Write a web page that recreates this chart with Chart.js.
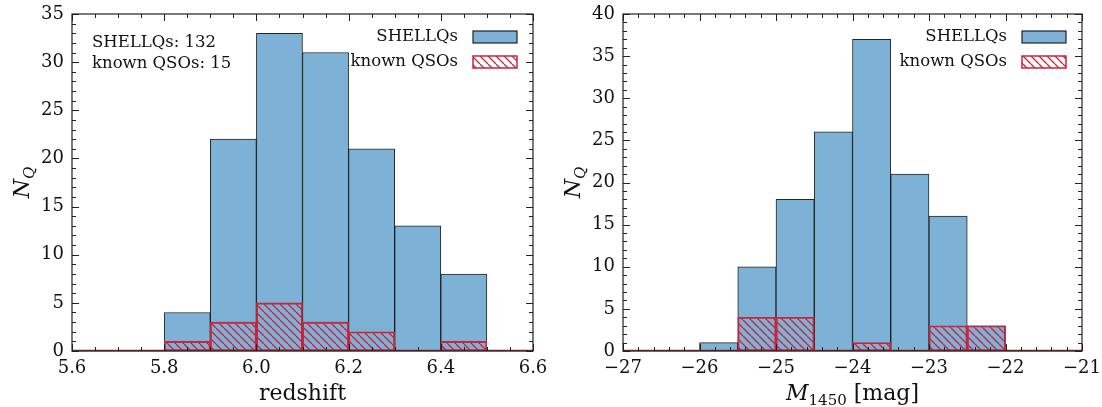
<!DOCTYPE html>
<html>
<head>
<meta charset="utf-8">
<script src="https://cdn.jsdelivr.net/npm/chart.js@4.4.1/dist/chart.umd.min.js"></script>
<style>
  body { margin: 0; background: #fff; }
  .panel { position: absolute; top: 0; width: 551px; height: 407px; }
</style>
</head>
<body>
<div class="panel" style="left:0"><canvas id="zChart" width="551" height="407"></canvas></div>
<div class="panel" style="left:551px"><canvas id="mChart" width="551" height="407"></canvas></div>
<script>
// redshift histogram (bin left edges, width 0.1)
const zBinLeft = [5.6, 5.7, 5.8, 5.9, 6.0, 6.1, 6.2, 6.3, 6.4, 6.5];
const zShellqs = [0, 0, 4, 22, 33, 31, 21, 13, 8, 0];
const zKnown   = [0, 0, 1, 3, 5, 3, 2, 0, 1, 0];
const zTicks = [5.6, 5.8, 6.0, 6.2, 6.4, 6.6];
const zTickLabels = ['5.6', '5.8', '6.0', '6.2', '6.4', '6.6'];
const zCountTicks = [0, 5, 10, 15, 20, 25, 30, 35];

// M1450 histogram (bin left edges, width 0.5)
const mBinLeft = [-27, -26.5, -26, -25.5, -25, -24.5, -24, -23.5, -23, -22.5, -22, -21.5];
const mShellqs = [0, 0, 1, 10, 18, 26, 37, 21, 16, 3, 0, 0];
const mKnown   = [0, 0, 0, 4, 4, 0, 1, 0, 3, 3, 0, 0];
const mTicks = [-27, -26, -25, -24, -23, -22, -21];
const mTickLabels = ['\u221227', '\u221226', '\u221225', '\u221224', '\u221223', '\u221222', '\u221221'];
const mCountTicks = [0, 5, 10, 15, 20, 25, 30, 35, 40];

const blue = '#7db1d5';
const red = '#c9253c';
const serif = "'DejaVu Serif', serif";

function hatch(color) {
    const s = 8;
    const c = document.createElement('canvas');
    c.width = s; c.height = s;
    const g = c.getContext('2d');
    g.strokeStyle = color;
    g.lineWidth = 1.3;
    g.beginPath();
    for (let k = -1; k <= 1; k++) {
        g.moveTo(k * s, 0);
        g.lineTo(k * s + s, s);
    }
    g.stroke();
    return g.createPattern(c, 'repeat');
}

// draws a run of text parts (italic / subscript) starting at x
function drawParts(ctx, parts, x, y) {
    parts.forEach(p => {
        ctx.font = (p.italic ? 'italic ' : '') + p.size + 'px ' + serif;
        ctx.fillText(p.t, x, y + (p.dy || 0));
        x += ctx.measureText(p.t).width;
    });
}
function partsWidth(ctx, parts) {
    let w = 0;
    parts.forEach(p => {
        ctx.font = (p.italic ? 'italic ' : '') + p.size + 'px ' + serif;
        w += ctx.measureText(p.t).width;
    });
    return w;
}

const decor = {
    id: 'decor',
    afterDatasetsDraw(chart, args, o) {
        const ctx = chart.ctx;
        const a = chart.chartArea;
        const x = chart.scales.x, y = chart.scales.y;
        ctx.save();

        // empty bins leave an edge line at zero
        const y0 = y.getPixelForValue(0);
        ctx.strokeStyle = '#a82238';
        ctx.lineWidth = 1.6;
        ctx.beginPath();
        ctx.moveTo(a.left, y0 - 0.5);
        ctx.lineTo(a.right, y0 - 0.5);
        ctx.stroke();

        // frame
        ctx.strokeStyle = '#222';
        ctx.lineWidth = 1.2;
        ctx.strokeRect(a.left, a.top, a.right - a.left, a.bottom - a.top);

        // inward ticks on all four sides
        ctx.lineWidth = 1;
        ctx.beginPath();
        const nx = Math.round((x.max - x.min) / o.xMinor);
        for (let i = 0; i <= nx; i++) {
            const v = x.min + i * o.xMinor;
            const px = Math.round(x.getPixelForValue(v)) + 0.5;
            const len = (i % o.xPer === 0) ? 7 : 4;
            ctx.moveTo(px, a.bottom); ctx.lineTo(px, a.bottom - len);
            ctx.moveTo(px, a.top); ctx.lineTo(px, a.top + len);
        }
        const ny = Math.round((y.max - y.min) / o.yMinor);
        for (let i = 0; i <= ny; i++) {
            const v = y.min + i * o.yMinor;
            const py = Math.round(y.getPixelForValue(v)) + 0.5;
            const len = (i % o.yPer === 0) ? 7 : 4;
            ctx.moveTo(a.left, py); ctx.lineTo(a.left + len, py);
            ctx.moveTo(a.right, py); ctx.lineTo(a.right - len, py);
        }
        ctx.stroke();

        // legend (top right, inside)
        ctx.fillStyle = '#111';
        ctx.textAlign = 'right';
        ctx.textBaseline = 'middle';
        ctx.font = '16.5px ' + serif;
        const bx = a.right - 16 - 44;
        ctx.fillText('SHELLQs', bx - 15, a.top + 23);
        ctx.fillText('known QSOs', bx - 15, a.top + 48);
        ctx.fillStyle = blue;
        ctx.fillRect(bx, a.top + 17, 44, 12);
        ctx.strokeStyle = '#222';
        ctx.lineWidth = 1.2;
        ctx.strokeRect(bx, a.top + 17, 44, 12);
        ctx.fillStyle = hatch(red);
        ctx.fillRect(bx, a.top + 42, 44, 12);
        ctx.strokeStyle = red;
        ctx.lineWidth = 1.5;
        ctx.strokeRect(bx, a.top + 42, 44, 12);

        // sample counts
        if (o.note) {
            ctx.fillStyle = '#111';
            ctx.textAlign = 'left';
            ctx.font = '16.5px ' + serif;
            o.note.forEach((t, i) => ctx.fillText(t, a.left + 20, a.top + 29 + i * 21));
        }

        // axis titles
        ctx.fillStyle = '#111';
        ctx.textAlign = 'left';
        ctx.textBaseline = 'alphabetic';
        const xw = partsWidth(ctx, o.xTitle);
        drawParts(ctx, o.xTitle, (a.left + a.right) / 2 - xw / 2, 400);

        const yTitle = [{t: 'N', italic: true, size: 22}, {t: 'Q', italic: true, size: 15, dy: 5}];
        const yw = partsWidth(ctx, yTitle);
        ctx.translate(29, (a.top + a.bottom) / 2);
        ctx.rotate(-Math.PI / 2);
        drawParts(ctx, yTitle, -yw / 2, 0);
        ctx.restore();
    }
};

function makeChart(id, p) {
    const w = p.binWidth;
    return new Chart(document.getElementById(id), {
        type: 'bar',
        data: {
            datasets: [{
                label: 'known QSOs',
                data: p.known.map((v, i) => ({x: p.binLeft[i] + w / 2, y: v})),
                backgroundColor: hatch(red),
                borderColor: red,
                borderWidth: 1.2,
                borderSkipped: false,
                order: 0
            }, {
                label: 'SHELLQs',
                data: p.shellqs.map((v, i) => ({x: p.binLeft[i] + w / 2, y: v})),
                backgroundColor: blue,
                borderColor: 'rgba(0,0,0,0.85)',
                borderWidth: 1,
                borderSkipped: false,
                order: 1
            }]
        },
        options: {
            responsive: false,
            animation: false,
            events: [],
            layout: {padding: {top: 14, right: p.padRight, left: 0, bottom: 0}},
            datasets: {bar: {grouped: false, barPercentage: 1, categoryPercentage: 1}},
            scales: {
                x: {
                    type: 'linear',
                    offset: false,
                    min: p.xTicks[0],
                    max: p.xTicks[p.xTicks.length - 1],
                    grid: {display: false, drawTicks: false},
                    border: {display: false},
                    afterBuildTicks: s => { s.ticks = p.xTicks.map(v => ({value: v})); },
                    afterFit: s => { s.height = 56; s.paddingLeft = 0; s.paddingRight = 0; },
                    ticks: {
                        padding: 7,
                        color: '#111',
                        maxRotation: 0,
                        autoSkip: false,
                        font: {family: serif, size: 18},
                        callback: (v, i) => p.xLabels[i]
                    }
                },
                y: {
                    min: 0,
                    max: p.yTicks[p.yTicks.length - 1],
                    grid: {display: false, drawTicks: false},
                    border: {display: false},
                    afterBuildTicks: s => { s.ticks = p.yTicks.map(v => ({value: v})); },
                    afterFit: s => { s.width = 72; s.paddingTop = 0; s.paddingBottom = 0; },
                    ticks: {
                        padding: 8,
                        color: '#111',
                        font: {family: serif, size: 18},
                        callback: v => String(v)
                    }
                }
            },
            plugins: {
                legend: {display: false},
                tooltip: {enabled: false},
                decor: p.decor
            }
        },
        plugins: [decor]
    });
}

makeChart('zChart', {
    binLeft: zBinLeft, binWidth: 0.1, shellqs: zShellqs, known: zKnown,
    xTicks: zTicks, xLabels: zTickLabels, yTicks: zCountTicks, padRight: 18,
    decor: {
        xMinor: 0.05, xPer: 4, yMinor: 1, yPer: 5,
        note: ['SHELLQs: 132', 'known QSOs: 15'],
        xTitle: [{t: 'redshift', size: 22}]
    }
});

makeChart('mChart', {
    binLeft: mBinLeft, binWidth: 0.5, shellqs: mShellqs, known: mKnown,
    xTicks: mTicks, xLabels: mTickLabels, yTicks: mCountTicks, padRight: 20,
    decor: {
        xMinor: 0.2, xPer: 5, yMinor: 1, yPer: 5,
        xTitle: [{t: 'M', italic: true, size: 22}, {t: '1450', size: 15, dy: 5}, {t: ' [mag]', size: 22}]
    }
});
</script>
</body>
</html>
